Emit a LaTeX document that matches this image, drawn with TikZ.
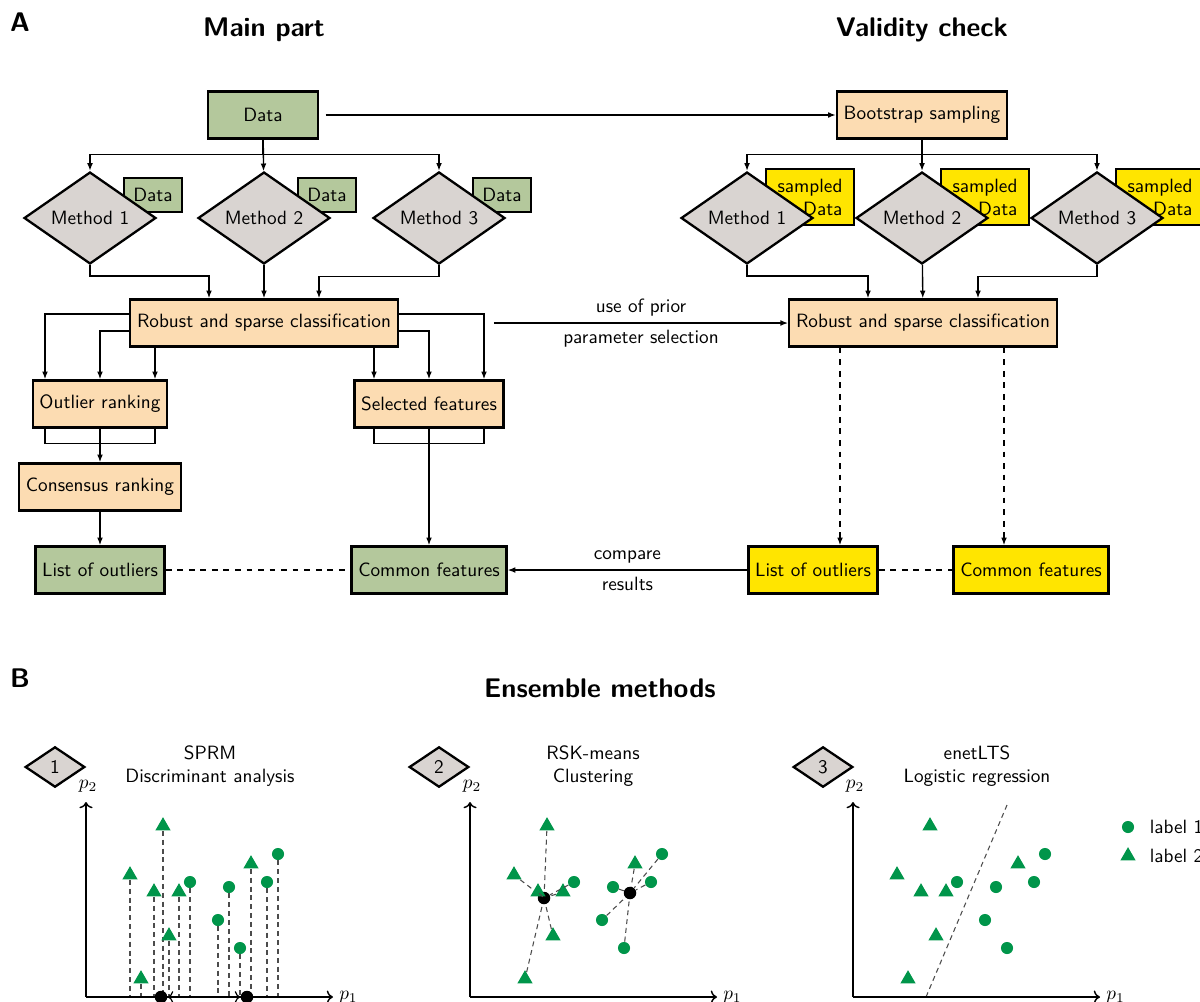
\documentclass[tikz,border=0pt]{standalone}
\usepackage{xcolor}
\usepackage{tikz}
\usetikzlibrary{shapes.geometric, arrows.meta, positioning, calc}
\definecolor{boxgreen}{HTML}{B4C89C}
\definecolor{boxpeach}{HTML}{FCDCB2}
\definecolor{boxyellow}{HTML}{FFE500}
\definecolor{methgray}{HTML}{D9D4D1}
\definecolor{ptgreen}{HTML}{00954A}

% toy data set shared by the three ensemble panels (x/y from the axis corner)
\newcommand\tripts{77/-171, 44/-122, 68/-105, 93/-105, 83/-61, 55/-18, 165/-133}
\newcommand\circpts{104/-115, 143/-110, 132/-77, 154/-49, 181/-115, 192/-143}
\newcommand\clustri{77/-171/cA, 44/-122/cA, 68/-105/cA, 93/-105/cA, 83/-61/cA, 55/-18/cA, 165/-133/cB}
\newcommand\cluscirc{104/-115/cA, 143/-110/cB, 132/-77/cB, 154/-49/cB, 181/-115/cB, 192/-143/cB}

\begin{document}
\begin{tikzpicture}[
    x=0.52pt, y=-0.52pt,
    every node/.style={font=\sffamily},
    box/.style={draw=black, line width=1.2pt, fill=#1, minimum height=24.5pt, inner xsep=3.5pt},
    method/.style={diamond, draw=black, line width=1.2pt, fill=methgray, minimum width=68.6pt, minimum height=45.8pt, inner sep=0pt},
    datatag/.style={draw=black, line width=1.2pt, fill=boxgreen, minimum width=30pt, minimum height=17.7pt, inner sep=1pt},
    sampletag/.style={draw=black, line width=1.2pt, fill=boxyellow, minimum width=46pt, minimum height=29pt, inner xsep=5.5pt, inner ysep=1pt, align=right},
    numtag/.style={diamond, draw=black, line width=1.2pt, fill=methgray, minimum width=31pt, minimum height=21pt, inner sep=0pt},
    arrow/.style={-{Latex[length=4pt, width=3pt]}, line width=0.7pt},
    darrow/.style={-{Latex[length=4pt, width=3pt]}, dashed, line width=0.7pt},
    link/.style={line width=0.7pt},
    dlink/.style={dashed, line width=0.7pt},
    heading/.style={font=\sffamily\bfseries\fontsize{14}{16}\selectfont},
    axis/.style={->, line width=0.75pt},
    proj/.style={dash pattern=on 2.6pt off 2pt, line width=0.55pt, color=black!70},
    dot/.style={circle, fill=ptgreen, inner sep=0pt, minimum size=6.3pt},
    tri/.style={regular polygon, regular polygon sides=3, fill=ptgreen, inner sep=0pt, minimum size=9.2pt},
    centre/.style={circle, fill=black, inner sep=0pt, minimum size=6.5pt}
]
\useasboundingbox (0,0) rectangle (1200,1001);

% Headings
\node[heading] (hA) at (20,22) {A};
\node[heading] (hmain) at (264,30) {Main part};
\node[heading] (hval) at (922,30) {Validity check};
\node[heading] (hB) at (20,678) {B};
\node[heading] (hens) at (600,688) {Ensemble methods};

% Main part
\node[box=boxgreen, minimum width=57pt] (data) at (263,115) {Data};
\node[datatag] (d1) at (153,195) {Data};
\node[datatag] (d2) at (327,195) {Data};
\node[datatag] (d3) at (502,195) {Data};
\node[method] (m1) at (90,218) {Method 1};
\node[method] (m2) at (264,218) {Method 2};
\node[method] (m3) at (439,218) {Method 3};
\node[box=boxpeach] (rsc) at (264,323) {Robust and sparse classification};
\node[box=boxpeach] (olr) at (100,404) {Outlier ranking};
\node[box=boxpeach] (sel) at (429,404) {Selected features};
\node[box=boxpeach] (cons) at (100,487) {Consensus ranking};
\node[box=boxgreen] (lolL) at (100,570) {List of outliers};
\node[box=boxgreen] (cfL) at (429,570) {Common features};

% Validity check
\node[box=boxpeach] (boot) at (922,115) {Bootstrap sampling};
\node[sampletag] (sd1) at (810,197) {sampled\\Data};
\node[sampletag] (sd2) at (985,197) {sampled\\Data};
\node[sampletag] (sd3) at (1160,197) {sampled\\Data};
\node[method] (rm1) at (747,218) {Method 1};
\node[method] (rm2) at (922,218) {Method 2};
\node[method] (rm3) at (1097,218) {Method 3};
\node[box=boxpeach] (rscR) at (923,323) {Robust and sparse classification};
\node[box=boxyellow] (lolR) at (813,570) {List of outliers};
\node[box=boxyellow] (cfR) at (1031,570) {Common features};

% Links, main part
\draw[arrow, shorten <=3.5pt] (data) -- (boot);
\draw[arrow] (data.south) -- ++(0,15) -| (m1.north);
\draw[arrow] (data) -- (m2);
\draw[arrow] (data.south) -- ++(0,15) -| (m3.north);
\draw[arrow] (m1.south) -- ++(0,11) -| ($(rsc.north)+(-55,0)$);
\draw[arrow] (m2) -- (rsc);
\draw[arrow] (m3.south) -- ++(0,11) -| ($(rsc.north)+(55,0)$);
\coordinate (olrL) at ($(olr.north)+(-55,0)$);
\coordinate (olrR) at ($(olr.north)+(55,0)$);
\coordinate (selL) at ($(sel.north)+(-55,0)$);
\coordinate (selR) at ($(sel.north)+(55,0)$);
\draw[arrow] ($(rsc.west)+(0,-9)$) -| (olrL);
\draw[arrow] ($(rsc.west)+(0,8)$) -| (olr.north);
\draw[arrow] (rsc.south -| olrR) -- (olrR);
\draw[arrow] (rsc.south -| selL) -- (selL);
\draw[arrow] ($(rsc.east)+(0,8)$) -| (sel.north);
\draw[arrow] ($(rsc.east)+(0,-9)$) -| (selR);
\draw[link] ($(olr.south)+(-55,0)$) -- ++(0,15) -| ($(olr.south)+(55,0)$);
\draw[arrow] (olr) -- (cons);
\draw[link] ($(sel.south)+(-55,0)$) -- ++(0,15) -| ($(sel.south)+(55,0)$);
\draw[arrow] (sel) -- (cfL);
\draw[arrow] (cons) -- (lolL);
\draw[dlink] (lolL) -- (cfL);
\draw[arrow] ($(rsc.east)+(95,0)$) -- (rscR)
    node[midway, above] {use of prior}
    node[midway, below] {parameter selection};

% Links, validity check
\draw[arrow] (boot.south) -- ++(0,15) -| (rm1.north);
\draw[arrow] (boot) -- (rm2);
\draw[arrow] (boot.south) -- ++(0,15) -| (rm3.north);
\draw[arrow] (rm1.south) -- ++(0,11) -| ($(rscR.north)+(-55,0)$);
\draw[arrow] (rm2) -- (rscR);
\draw[arrow] (rm3.south) -- ++(0,11) -| ($(rscR.north)+(55,0)$);
\coordinate (dA) at ($(rscR.south)+(-83,0)$);
\coordinate (dB) at ($(rscR.south)+(81,0)$);
\draw[darrow] (dA) -- (dA |- lolR.north);
\draw[darrow] (dB) -- (dB |- cfR.north);
\draw[dlink] (lolR) -- (cfR);
\draw[arrow] (lolR) -- (cfL)
    node[midway, above] {compare}
    node[midway, below] {results};

% Ensemble methods
\node[numtag] (n1) at (55,767) {1};
\node[numtag] (n2) at (439,767) {2};
\node[numtag] (n3) at (823,767) {3};
\node[align=center] (t1) at (210,766) {SPRM\\Discriminant analysis};
\node[align=center] (t2) at (593,766) {RSK-means\\Clustering};
\node[align=center] (t3) at (977,766) {enetLTS\\Logistic regression};

% Panel 1: projections onto p1
\begin{scope}[shift={(86,997)}]
  \coordinate (o1) at (0,0);
  \foreach \x/\y [count=\i] in \tripts {
    \node[tri] (s1t\i) at (\x,\y) {};
    \draw[proj] (s1t\i) -- (s1t\i |- o1);
  }
  \foreach \x/\y [count=\i] in \circpts {
    \node[dot] (s1c\i) at (\x,\y) {};
    \draw[proj] (s1c\i) -- (s1c\i |- o1);
  }
  \draw[axis] (o1) -- (247,0);
  \draw[axis] (o1) -- (0,-195);
  \node[anchor=west, inner sep=1pt] (x1) at (251,0) {$p_1$};
  \node (y1) at (2,-211) {$p_2$};
  \node[centre] (k1) at (75,0) {};
  \node[centre] (k2) at (161,0) {};
  \draw[<->, line width=0.6pt] (k1) -- (k2);
\end{scope}

% Panel 2: clusters
\begin{scope}[shift={(470,997)}]
  \coordinate (o2) at (0,0);
  \node[centre] (cA) at (74,-99) {};
  \node[centre] (cB) at (160,-104) {};
  \foreach \x/\y/\c [count=\i] in \clustri {
    \node[tri] (s2t\i) at (\x,\y) {};
    \draw[proj] (s2t\i) -- (\c);
  }
  \foreach \x/\y/\c [count=\i] in \cluscirc {
    \node[dot] (s2c\i) at (\x,\y) {};
    \draw[proj] (s2c\i) -- (\c);
  }
  \draw[axis] (o2) -- (247,0);
  \draw[axis] (o2) -- (0,-195);
  \node[anchor=west, inner sep=1pt] (x2) at (251,0) {$p_1$};
  \node (y2) at (2,-211) {$p_2$};
\end{scope}

% Panel 3: separating line
\begin{scope}[shift={(853,997)}]
  \coordinate (o3) at (0,0);
  \coordinate (b1) at (73,0);
  \coordinate (b2) at (154,-192);
  \draw[proj] (b1) -- (b2);
  \foreach \x/\y [count=\i] in \tripts {
    \node[tri] (s3t\i) at (\x,\y) {};
  }
  \foreach \x/\y [count=\i] in \circpts {
    \node[dot] (s3c\i) at (\x,\y) {};
  }
  \draw[axis] (o3) -- (247,0);
  \draw[axis] (o3) -- (0,-195);
  \node[anchor=west, inner sep=1pt] (x3) at (251,0) {$p_1$};
  \node (y3) at (2,-211) {$p_2$};
\end{scope}

% Legend
\node[dot] (g1) at (1128,827) {};
\node[anchor=west] (gl1) at (1143,827) {label 1};
\node[tri] (g2) at (1128,856) {};
\node[anchor=west] (gl2) at (1143,856) {label 2};

\end{tikzpicture}
\end{document}
